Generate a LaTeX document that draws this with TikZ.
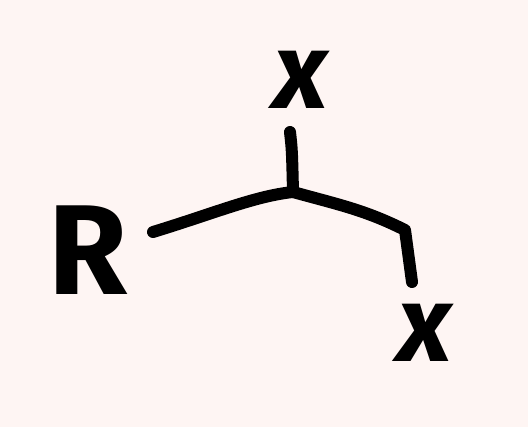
\documentclass[tikz,border=0pt]{standalone}
\usepackage{fontspec}
\setmainfont{Fira Sans}
\begin{document}
	\begin{tikzpicture}
		[x=0.5pt,y=-0.5pt,
		pen/.style={line width=6pt,line cap=round,line join=round},
		letter/.style={font=\fontsize{54}{54}\selectfont\bfseries,inner sep=0pt}
		]
		\fill[fill={rgb,255:red,254;green,245;blue,243}] (0,0) rectangle (528,427);
		\useasboundingbox (0,0) rectangle (528,427);
		\node[letter,font=\fontsize{64}{64}\selectfont\bfseries] (R) at (88,250) {R};
		\node[letter] (xtop) at (301,80) {\itshape x};
		\node[letter] (xbot) at (425,333) {\itshape x};
		\coordinate (j) at (293,192);
		\coordinate (left) at (153,232);
		\coordinate (up) at (290,132);
		\coordinate (bend) at (405,230);
		\coordinate (down) at (412,282);
		\draw[pen] (left) .. controls (215,213) and (255,196) .. (j);
		\draw[pen] (up) .. controls (292,150) .. (j);
		\draw[pen] (j) .. controls (340,205) and (365,210) .. (bend)
			-- (down);
	\end{tikzpicture}
\end{document}
